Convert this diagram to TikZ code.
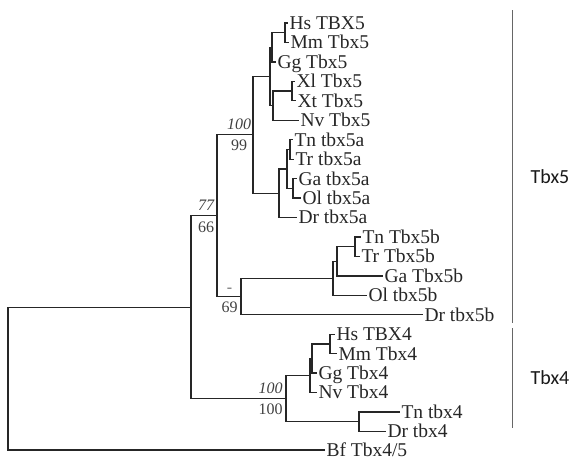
\documentclass[tikz,border=0pt]{standalone}
\usepackage{fontspec}
\setmainfont{Liberation Serif}
\newfontfamily\cladefont{Carlito}
\begin{document}
\begin{tikzpicture}[x=1pt,y=-1pt,
  br/.style={line width=1.3pt, draw=black!85},
  leaf/.style={anchor=west, inner xsep=1.5pt, inner ysep=0pt, outer sep=0pt,
    font=\fontsize{19.5}{19.5}\selectfont, text height=12.8pt, text depth=0pt, text=black!85},
  sup/.style={inner sep=0pt, font=\fontsize{16}{16}\selectfont, text height=11pt, text depth=0pt, text=black!75},
  supit/.style={sup, font=\fontsize{16}{16}\selectfont\itshape},
  bar/.style={line width=1.3pt, draw=black!60},
  clab/.style={inner sep=0pt, font=\cladefont\fontsize{20}{20}\selectfont, text=black!90}]
\useasboundingbox (0,0) rectangle (571,456);
% leaves
\node[leaf] (hs5) at (288,23) {Hs TBX5};
\node[leaf] (mm5) at (289,42.45) {Mm Tbx5};
\node[leaf] (gg5) at (276,61.9) {Gg Tbx5};
\node[leaf] (xl5) at (295,81.35) {Xl Tbx5};
\node[leaf] (xt5) at (296,100.8) {Xt Tbx5};
\node[leaf] (nv5) at (299,120.25) {Nv Tbx5};
\node[leaf] (tn5a) at (293,139.7) {Tn tbx5a};
\node[leaf] (tr5a) at (294,159.15) {Tr tbx5a};
\node[leaf] (ga5a) at (297,178.6) {Ga tbx5a};
\node[leaf] (ol5a) at (301,198.05) {Ol tbx5a};
\node[leaf] (dr5a) at (297,217.5) {Dr tbx5a};
\node[leaf] (tn5b) at (361,236.95) {Tn Tbx5b};
\node[leaf] (tr5b) at (360,256.4) {Tr Tbx5b};
\node[leaf] (ga5b) at (383,275.85) {Ga Tbx5b};
\node[leaf] (ol5b) at (367,295.3) {Ol tbx5b};
\node[leaf] (dr5b) at (423,314.75) {Dr tbx5b};
\node[leaf] (hs4) at (335,334.2) {Hs TBX4};
\node[leaf] (mm4) at (337,353.65) {Mm Tbx4};
\node[leaf] (gg4) at (317,373.1) {Gg Tbx4};
\node[leaf] (nv4) at (317,392.55) {Nv Tbx4};
\node[leaf] (tn4) at (400,412) {Tn tbx4};
\node[leaf] (dr4) at (386,431.45) {Dr tbx4};
\node[leaf] (bf) at (325,450) {Bf Tbx4/5};
% internal nodes
\coordinate (hm5) at (285,32.73);
\coordinate (amn5) at (272,47.31);
\coordinate (xx5) at (292,91.08);
\coordinate (amph5) at (273,105.66);
\coordinate (tet5) at (270,76.49);
\coordinate (tt5a) at (290,149.43);
\coordinate (go5a) at (293,188.33);
\coordinate (sub5a) at (287,168.88);
\coordinate (f5a) at (279,193.19);
\coordinate (n100) at (253,134.84);
\coordinate (tt5b) at (355,246.68);
\coordinate (y5b) at (337,261.26);
\coordinate (x5b) at (333,278.28);
\coordinate (n69) at (241,296.52);
\coordinate (n77) at (217,215.68);
\coordinate (hm4) at (330,343.93);
\coordinate (b4) at (312,358.51);
\coordinate (a4) at (310,375.53);
\coordinate (f4) at (359,421.73);
\coordinate (n100b) at (286,398.63);
\coordinate (ing) at (191,307.16);
\coordinate (root) at (8,379);
% branches
\draw[br] (hm5) |- (hs5.west);
\draw[br] (hm5) |- (mm5.west);
\draw[br] (amn5) |- (hm5);
\draw[br] (amn5) |- (gg5.west);
\draw[br] (xx5) |- (xl5.west);
\draw[br] (xx5) |- (xt5.west);
\draw[br] (amph5) |- (xx5);
\draw[br] (amph5) |- (nv5.west);
\draw[br] (tet5) |- (amn5);
\draw[br] (tet5) |- (amph5);
\draw[br] (tt5a) |- (tn5a.west);
\draw[br] (tt5a) |- (tr5a.west);
\draw[br] (go5a) |- (ga5a.west);
\draw[br] (go5a) |- (ol5a.west);
\draw[br] (sub5a) |- (tt5a);
\draw[br] (sub5a) |- (go5a);
\draw[br] (f5a) |- (sub5a);
\draw[br] (f5a) |- (dr5a.west);
\draw[br] (n100) |- (tet5);
\draw[br] (n100) |- (f5a);
\draw[br] (tt5b) |- (tn5b.west);
\draw[br] (tt5b) |- (tr5b.west);
\draw[br] (y5b) |- (tt5b);
\draw[br] (y5b) |- (ga5b.west);
\draw[br] (x5b) |- (y5b);
\draw[br] (x5b) |- (ol5b.west);
\draw[br] (n69) |- (x5b);
\draw[br] (n69) |- (dr5b.west);
\draw[br] (n77) |- (n100);
\draw[br] (n77) |- (n69);
\draw[br] (hm4) |- (hs4.west);
\draw[br] (hm4) |- (mm4.west);
\draw[br] (b4) |- (hm4);
\draw[br] (b4) |- (gg4.west);
\draw[br] (a4) |- (b4);
\draw[br] (a4) |- (nv4.west);
\draw[br] (f4) |- (tn4.west);
\draw[br] (f4) |- (dr4.west);
\draw[br] (n100b) |- (a4);
\draw[br] (n100b) |- (f4);
\draw[br] (ing) |- (n77);
\draw[br] (ing) |- (n100b);
\draw[br] (root) |- (ing);
\draw[br] (root) |- (bf.west);
% support values
\node[supit] (s100a) at (239,124) {100};
\node[sup] (s99) at (239,145) {99};
\node[supit] (s77) at (206,205) {77};
\node[sup] (s66) at (206,226.5) {66};
\node[sup, text=black!55] (sdash) at (229.5,287) {-};
\node[sup] (s69) at (229.5,306.5) {69};
\node[supit] (s100b) at (270.5,388) {100};
\node[sup] (s100c) at (270.5,408.5) {100};
% clade bars
\coordinate (b5top) at (512.5,10);
\coordinate (b5bot) at (512.5,323);
\coordinate (b4top) at (512.5,328);
\coordinate (b4bot) at (512.5,428);
\draw[bar] (b5top) -- (b5bot);
\draw[bar] (b4top) -- (b4bot);
\node[clab] (t5) at (550,177) {Tbx5};
\node[clab] (t4) at (550,378) {Tbx4};
\end{tikzpicture}
\end{document}
